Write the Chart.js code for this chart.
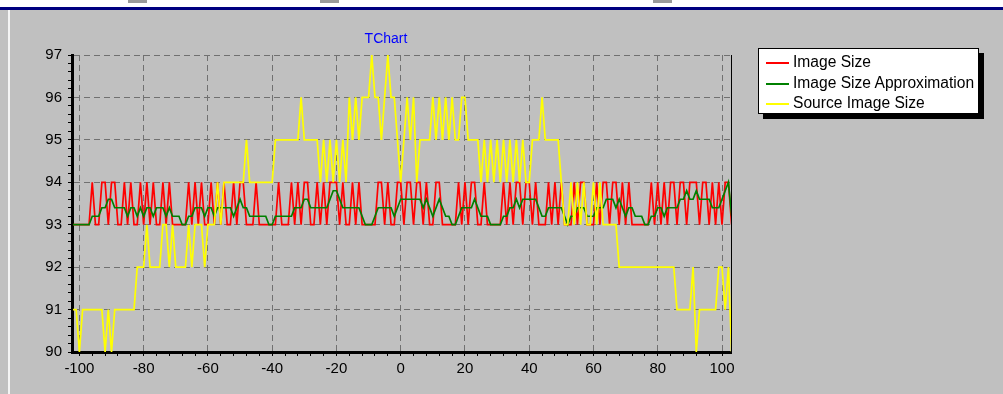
<!DOCTYPE html>
<html>
<head>
<meta charset="utf-8">
<script src="https://cdn.jsdelivr.net/npm/chart.js@4/dist/chart.umd.min.js"></script>
<style>
  html, body { margin: 0; padding: 0; background: #c0c0c0; overflow: hidden; }
  #wrap { position: relative; width: 1003px; height: 394px; }
  #topStrip { position: absolute; left: 0; top: 0; width: 1003px; height: 7px; background: #fff; }
  .frag { position: absolute; top: 0; height: 3px; background: #9a9a9a; }
  #navy { position: absolute; left: 0; top: 7px; width: 1003px; height: 3px; background: #000080; }
  #edge { position: absolute; left: 8px; top: 10px; width: 2px; height: 384px; background: #f4f4f4; }
  #title { position: absolute; left: 336px; top: 30px; width: 100px; text-align: center;
           font: 14px "Liberation Sans", Arial, sans-serif; color: #0000ff; }
  #legend { position: absolute; left: 758px; top: 48px; width: 219px; height: 64px;
            background: #fff; border: 1px solid #000; box-shadow: 5px 5px 0 #000;
            font: 15.6px "Liberation Sans", Arial, sans-serif; color: #000; }
  .item { position: absolute; left: 34px; height: 20px; line-height: 20px; white-space: nowrap; }
  .swatch { position: absolute; left: 7px; width: 23px; height: 2px; }
  canvas { position: absolute; left: 0; top: 0; }
</style>
</head>
<body>
<div id="wrap">
  <div id="topStrip"></div>
  <div class="frag" style="left:128px;width:19px"></div>
  <div class="frag" style="left:320px;width:19px"></div>
  <div class="frag" style="left:653px;width:19px"></div>
  <div id="navy"></div>
  <div id="edge"></div>
  <canvas id="myChart" width="1003" height="394"></canvas>
  <div id="title">TChart</div>
  <div id="legend"></div>
</div>
<script>
// * data (one value per x, x from -102 to 103)
const xStart = -102;

const imageSize = [
  93,93,93,93,93,93,94,93,93,94,
  94,93,94,94,93,93,94,93,94,93,
  93,94,93,94,93,94,93,93,94,93,
  94,93,93,93,93,93,94,93,94,93,
  94,93,93,94,93,94,93,94,93,93,
  94,93,94,94,93,93,93,94,93,93,
  93,93,93,93,94,93,93,93,94,93,
  94,93,94,94,93,93,94,93,94,93,
  94,94,94,93,94,93,93,94,93,94,
  93,93,93,93,93,94,94,93,94,93,
  93,94,94,93,94,94,93,94,94,93,
  94,93,93,94,94,93,93,93,93,93,
  94,93,94,93,94,94,93,93,94,93,
  93,93,93,93,94,93,94,93,94,94,
  93,94,94,93,94,93,93,93,94,93,
  94,93,94,93,93,93,94,93,94,94,
  93,93,93,94,93,94,94,93,94,94,
  93,94,93,94,93,93,93,93,93,93,
  94,93,94,93,94,93,94,94,93,94,
  94,93,94,94,94,93,94,94,93,94,
  93,94,93,94,94,93
];

const imageSizeApprox = [
  93,93,93,93,93,93,93.2,93.2,93.2,93.4,
  93.4,93.6,93.6,93.4,93.4,93.4,93.4,93.2,93.4,93.4,
  93.2,93.4,93.2,93.4,93.4,93.2,93.4,93.4,93.4,93.2,
  93.4,93.2,93.2,93.2,93,93,93.2,93.2,93.4,93.4,
  93.4,93.2,93.4,93.4,93.2,93.4,93.4,93.4,93.4,93.4,
  93.2,93.4,93.6,93.4,93.4,93.2,93.2,93.2,93.2,93.2,
  93.2,93,93,93.2,93.2,93.2,93.2,93.2,93.2,93.4,
  93.4,93.4,93.6,93.6,93.4,93.4,93.4,93.4,93.4,93.4,
  93.6,93.8,93.8,93.6,93.4,93.4,93.4,93.4,93.4,93.4,
  93.2,93,93,93,93.2,93.4,93.4,93.4,93.4,93.4,
  93.2,93.4,93.6,93.6,93.6,93.6,93.6,93.6,93.6,93.4,
  93.6,93.4,93.2,93.4,93.6,93.4,93.2,93.2,93,93,
  93.2,93.4,93.4,93.4,93.4,93.6,93.4,93.2,93.2,93.2,
  93,93,93,93,93.2,93.2,93.4,93.4,93.6,93.4,
  93.6,93.6,93.6,93.6,93.6,93.4,93.2,93.2,93.4,93.4,
  93.4,93.4,93.4,93.2,93,93.2,93.2,93.4,93.4,93.4,
  93.2,93.2,93.2,93.4,93.4,93.4,93.6,93.6,93.6,93.4,
  93.6,93.4,93.2,93.4,93.4,93.2,93.2,93.2,93,93,
  93.2,93.2,93.4,93.4,93.2,93.4,93.4,93.4,93.4,93.6,
  93.6,93.8,93.6,93.6,93.8,93.6,93.6,93.6,93.6,93.4,
  93.4,93.4,93.6,93.8,94,93.2
];

const sourceImageSize = [
  91,91,90,91,91,91,91,91,91,91,
  90,91,90,91,91,91,91,91,91,91,
  92,92,92,93,92,92,92,92,93,93,
  92,93,92,92,92,92,93,92,93,93,
  93,92,93,93,93,94,93,94,94,94,
  94,94,94,94,95,94,94,94,94,94,
  94,94,94,95,95,95,95,95,95,95,
  95,96,95,95,95,95,95,94,95,94,
  95,94,95,94,95,94,96,95,96,95,
  96,96,96,97,96,96,95,96,97,96,
  96,95,94,95,96,95,96,94,95,95,
  95,95,96,95,96,95,96,95,96,95,
  95,96,96,95,95,95,95,94,95,94,
  95,94,95,94,95,94,95,94,95,94,
  95,94,94,95,95,95,96,95,95,95,
  95,95,94,93,93,94,93,94,93,94,
  93,93,94,93,94,93,93,93,93,93,
  92,92,92,92,92,92,92,92,92,92,
  92,92,92,92,92,92,92,92,91,91,
  91,91,91,92,90,91,91,91,91,91,
  91,92,92,91,92,90
];

const seriesNames = ["Image Size", "Image Size Approximation", "Source Image Size"];
const seriesColors = ["#ff0000", "#008000", "#ffff00"];
const xTickLabels = [-100, -80, -60, -40, -20, 0, 20, 40, 60, 80, 100];
const yTickLabels = [90, 91, 92, 93, 94, 95, 96, 97];

// * html legend
const legendEl = document.getElementById("legend");
const rowTops = [3, 24, 44];
seriesNames.forEach((name, i) => {
  const sw = document.createElement("div");
  sw.className = "swatch";
  sw.style.top = (rowTops[i] + 10) + "px";
  sw.style.background = seriesColors[i];
  legendEl.appendChild(sw);
  const row = document.createElement("div");
  row.className = "item";
  row.style.top = rowTops[i] + "px";
  row.textContent = name;
  legendEl.appendChild(row);
});

// * chart
const toPoints = (values) => values.map((v, i) => ({ x: xStart + i, y: v }));

const tickFont = { family: "'Liberation Sans', Arial, sans-serif", size: 15 };

const frame = {
  id: "frame",
  afterDraw(chart) {
    const { ctx, chartArea } = chart;
    ctx.save();
    ctx.strokeStyle = "#000";
    ctx.lineWidth = 1;
    ctx.beginPath();
    ctx.moveTo(Math.round(chartArea.right) + 0.5, chartArea.top);
    ctx.lineTo(Math.round(chartArea.right) + 0.5, chartArea.bottom);
    ctx.stroke();
    ctx.restore();
  },
};

const isWhole = (v) => Math.abs(v - Math.round(v)) < 1e-6;

const config = {
  type: "line",
  data: {
    datasets: [
      { label: seriesNames[2], data: toPoints(sourceImageSize), borderColor: seriesColors[2], order: 1 },
      { label: seriesNames[1], data: toPoints(imageSizeApprox), borderColor: seriesColors[1], order: 2 },
      { label: seriesNames[0], data: toPoints(imageSize), borderColor: seriesColors[0], order: 3 },
    ],
  },
  options: {
    responsive: false,
    animation: false,
    events: [],
    layout: { padding: { left: 0, top: 55, right: 272, bottom: 0 } },
    elements: {
      point: { radius: 0 },
      line: { borderWidth: 1.7, tension: 0 },
    },
    plugins: {
      legend: { display: false },
      title: { display: false },
      tooltip: { enabled: false },
    },
    scales: {
      x: {
        type: "linear",
        min: -102.3,
        max: 102.8,
        afterBuildTicks(scale) {
          const t = [];
          for (let v = -100; v <= 100; v += 4) t.push({ value: v });
          scale.ticks = t;
        },
        afterFit(scale) {
          scale.height = 42;
          scale.paddingLeft = 0;
          scale.paddingRight = 0;
        },
        ticks: {
          autoSkip: false,
          maxRotation: 0,
          padding: 4,
          color: "#000",
          font: tickFont,
          callback: (v) => (xTickLabels.includes(v) ? String(v) : ""),
        },
        grid: {
          color: (c) => (c.tick && xTickLabels.includes(c.tick.value) ? "#707070" : "rgba(0,0,0,0)"),
          tickColor: "#000",
          tickLength: 4,
          lineWidth: 1,
        },
        border: { display: true, color: "#000", width: 3, dash: [6, 4] },
      },
      y: {
        min: 90,
        max: 97,
        afterBuildTicks(scale) {
          const t = [];
          for (let k = 0; k <= 35; k++) t.push({ value: (900 + 2 * k) / 10 });
          scale.ticks = t;
        },
        afterFit(scale) {
          scale.width = 72;
          scale.paddingTop = 0;
          scale.paddingBottom = 0;
        },
        ticks: {
          autoSkip: false,
          padding: 6,
          color: "#000",
          font: tickFont,
          callback: (v) => (isWhole(v) && yTickLabels.includes(Math.round(v)) ? String(Math.round(v)) : ""),
        },
        grid: {
          color: (c) => (c.tick && isWhole(c.tick.value) ? "#707070" : "rgba(0,0,0,0)"),
          tickColor: "#000",
          tickLength: 4,
          lineWidth: 1,
        },
        border: { display: true, color: "#000", width: 3, dash: [6, 4] },
      },
    },
  },
  plugins: [frame],
};

let chart = new Chart("myChart", config);
</script>
</body>
</html>
